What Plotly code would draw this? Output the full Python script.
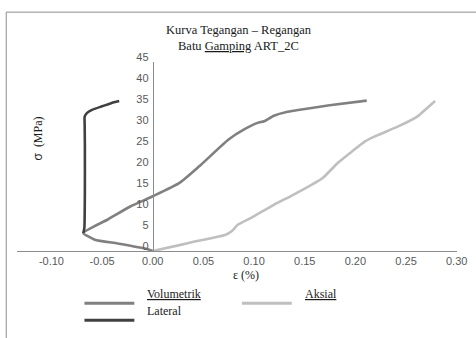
import plotly.graph_objects as go

# ---- data (strain in %, stress in MPa) ----
vol_strain = [0.0, -0.0058, -0.0347, -0.0572, -0.0685, -0.0444, -0.0222, 0.0007, 0.0264, 0.0456,
              0.0745, 0.0906, 0.1035, 0.1100, 0.1196, 0.1320, 0.1418, 0.1745, 0.2112]
vol_stress = [0.0, 0.5, 1.8, 2.7, 4.3, 7.5, 10.6, 13.1, 16.2, 20.1,
              26.5, 29.0, 30.5, 30.9, 32.2, 33.1, 33.5, 34.7, 35.8]

ax_strain = [0.0, 0.0263, 0.0424, 0.0585, 0.0714, 0.0778, 0.0842, 0.0971, 0.1196, 0.1420,
             0.1678, 0.1823, 0.1967, 0.2095, 0.2192, 0.2417, 0.2610, 0.2706, 0.2787]
ax_stress = [0.0, 1.4, 2.3, 3.1, 3.8, 4.7, 6.3, 7.9, 11.0, 13.8,
             17.4, 20.9, 23.7, 26.1, 27.3, 29.6, 32.0, 34.0, 35.7]

lat_strain = [-0.0685, -0.0675, -0.0670, -0.0670, -0.0672, -0.0672, -0.0648, -0.0600, -0.0508, -0.0411, -0.0331]
lat_stress = [4.3, 5.5, 15.0, 25.0, 30.0, 32.0, 32.9, 33.6, 34.4, 35.2, 35.7]

x_ticks = [-0.10, -0.05, 0.00, 0.05, 0.10, 0.15, 0.20, 0.25, 0.30]
y_ticks = [0, 5, 10, 15, 20, 25, 30, 35, 40, 45]

names = ["Volumetrik", "Aksial", "Lateral"]
colors = ["#808080", "#bfbfbf", "#404040"]

XMIN, XMAX = -0.134, 0.3003

fig = go.Figure()
for xs, ys, nm, c in [(vol_strain, vol_stress, names[0], colors[0]),
                      (ax_strain, ax_stress, names[1], colors[1]),
                      (lat_strain, lat_stress, names[2], colors[2])]:
    fig.add_trace(go.Scatter(x=xs, y=ys, mode="lines", name=nm,
                             line=dict(color=c, width=2.6, shape="spline", smoothing=0.5),
                             showlegend=False))

serif = "Liberation Serif, Times New Roman, serif"
sans = "Liberation Sans, Arial, sans-serif"

fig.update_layout(
    width=476, height=338,
    margin=dict(l=17, r=9, t=62, b=86.5),
    paper_bgcolor="white", plot_bgcolor="white",
    showlegend=False,
    xaxis=dict(range=[XMIN, XMAX], tickvals=x_ticks, ticktext=[f"{v:.2f}" for v in x_ticks],
               showgrid=False, zeroline=False, showline=True, linecolor="#8c8c8c", linewidth=1,
               ticks="", tickfont=dict(family=sans, size=11, color="#595959"),
               ticklabeloverflow="allow", anchor="y", domain=[0, 1]),
    yaxis=dict(range=[0, 45], tickvals=y_ticks, showgrid=False, zeroline=False,
               showline=True, linecolor="#8c8c8c", linewidth=1, ticks="",
               tickfont=dict(family=sans, size=11, color="#595959"),
               anchor="free", position=(0 - XMIN) / (XMAX - XMIN), ticklabelstandoff=2,
               ticklabelshift=-5, ticklabeloverflow="allow"),
)

# frame around chart
fig.add_shape(type="rect", xref="paper", yref="paper",
              x0=(6 - 17) / 450, x1=(490 - 17) / 450,
              y0=(251.5 - 350) / 189.5, y1=(251.5 - 12) / 189.5,
              line=dict(color="#8c8c8c", width=1), layer="below")

def px2x(px):
    return (px - 17) / 450

def px2y(py):
    return (251.5 - py) / 189.5

# titles
fig.add_annotation(text="Kurva Tegangan – Regangan", x=px2x(244), y=px2y(21), xref="paper", yref="paper",
                   showarrow=False, font=dict(family=serif, size=12.5, color="#1a1a1a"))
fig.add_annotation(text="Batu <span style='text-decoration:underline dotted'>Gamping</span> ART_2C",
                   x=px2x(244), y=px2y(37), xref="paper", yref="paper",
                   showarrow=False, font=dict(family=serif, size=12.5, color="#1a1a1a"))
fig.add_annotation(text="ε (%)", x=px2x(251), y=px2y(285), xref="paper", yref="paper",
                   showarrow=False, font=dict(family=serif, size=12, color="#1a1a1a"))
fig.add_annotation(text="<span style='font-family:Liberation Sans'>σ</span>  (MPa)", x=px2x(29), y=px2y(139),
                   xref="paper", yref="paper", textangle=-90,
                   showarrow=False, font=dict(family=serif, size=12, color="#1a1a1a"))

# legend (manual)
leg = [(names[0], colors[0], 86, 304, True), (names[1], colors[1], 247, 304, True),
       (names[2], colors[2], 86, 321, False)]
for nm, c, px, py, ul in leg:
    fig.add_shape(type="line", xref="paper", yref="paper", x0=px2x(px), x1=px2x(px + 51),
                  y0=px2y(py), y1=px2y(py), line=dict(color=c, width=3))
    label = f"<span style='text-decoration:underline dotted'>{nm}</span>" if ul else nm
    fig.add_annotation(text=label, x=px2x(px + 62), y=px2y(py), xref="paper", yref="paper",
                       xanchor="left", showarrow=False,
                       font=dict(family=serif, size=12, color="#1a1a1a"))

fig.write_html("out.html")
